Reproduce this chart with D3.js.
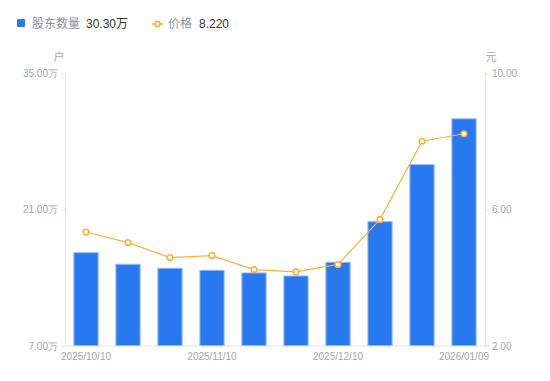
<!DOCTYPE html>
<html>
<head>
<meta charset="utf-8">
<script src="https://cdn.jsdelivr.net/npm/d3@7"></script>
<style>
  body { margin: 0; background: #fff; }
  svg { display: block; font-family: "Liberation Sans", "Noto Sans CJK SC", sans-serif; }
</style>
</head>
<body>
<script>
const dates = ['2025/10/10', '2025/10/20', '2025/10/31', '2025/11/10', '2025/11/20',
               '2025/11/30', '2025/12/10', '2025/12/20', '2025/12/31', '2026/01/09'];
const holders = [16.57, 15.38, 14.97, 14.76, 14.49, 14.18, 15.58, 19.75, 25.6, 30.30]; // 万户
const prices = [5.34, 5.03, 4.59, 4.65, 4.24, 4.17, 4.39, 5.71, 8.0, 8.22]; // 元
const leftTicks = [7, 21, 35];
const rightTicks = [2, 6, 10];
const shownDates = ['2025/10/10', '2025/11/10', '2025/12/10', '2026/01/09'];

const width = 550, height = 381;
const margin = { top: 73, right: 65, bottom: 35, left: 65 };

const barColor = '#2878f0', lineColor = '#fbb03b', axisColor = '#e3e4e8', textColor = '#a3a5b3';

const svg = d3.select('body').append('svg')
    .attr('width', width).attr('height', height);

const x = d3.scaleBand()
    .domain(dates)
    .range([margin.left, width - margin.right])
    .paddingInner(0.4).paddingOuter(0.2);

const yL = d3.scaleLinear().domain([7, 35]).range([height - margin.bottom, margin.top]);
const yR = d3.scaleLinear().domain([2, 10]).range([height - margin.bottom, margin.top]);

// axes
const leftAxis = svg.append('g')
    .attr('transform', `translate(${margin.left},0)`)
    .call(d3.axisLeft(yL).tickValues(leftTicks).tickSize(4).tickPadding(3)
      .tickFormat(d => d3.format('.2f')(d) + '万'));

const rightAxis = svg.append('g')
    .attr('transform', `translate(${width - margin.right},0)`)
    .call(d3.axisRight(yR).tickValues(rightTicks).tickSize(4).tickPadding(3)
      .tickFormat(d3.format('.2f')));

const bottomAxis = svg.append('g')
    .attr('transform', `translate(0,${height - margin.bottom})`)
    .call(d3.axisBottom(x).tickValues(shownDates).tickSize(0).tickPadding(7));

[leftAxis, rightAxis, bottomAxis].forEach(g => {
  g.select('.domain').attr('stroke', axisColor);
  g.selectAll('.tick line').attr('stroke', axisColor);
  g.selectAll('.tick text').attr('fill', textColor).style('font-size', '10px');
});
bottomAxis.select('.domain').attr('d', `M${margin.left},0H${width - margin.right}`);

// unit labels
svg.append('text').attr('x', margin.left - 6).attr('y', 61)
    .attr('text-anchor', 'middle').attr('fill', textColor)
    .style('font-size', '11px').text('户');
svg.append('text').attr('x', width - margin.right + 6).attr('y', 61)
    .attr('text-anchor', 'middle').attr('fill', textColor)
    .style('font-size', '11px').text('元');

// bars
svg.append('g').selectAll('rect')
  .data(holders)
  .join('rect')
    .attr('x', (d, i) => x(dates[i]) + 0.5)
    .attr('y', d => yL(d))
    .attr('width', x.bandwidth() - 1)
    .attr('height', d => yL(7) - yL(d) - 0.5)
    .attr('fill', barColor)
    .attr('stroke', '#8fb8f7')
    .attr('stroke-width', 1);

// price line
const line = d3.line()
    .x((d, i) => x(dates[i]) + x.bandwidth() / 2)
    .y(d => yR(d));

svg.append('path')
    .datum(prices)
    .attr('d', line)
    .attr('fill', 'none')
    .attr('stroke', lineColor)
    .attr('stroke-width', 1.2);

svg.append('g').selectAll('circle')
  .data(prices)
  .join('circle')
    .attr('cx', (d, i) => x(dates[i]) + x.bandwidth() / 2)
    .attr('cy', d => yR(d))
    .attr('r', 2.8)
    .attr('fill', '#fff')
    .attr('stroke', lineColor)
    .attr('stroke-width', 1.6);

// legend
const legend = svg.append('g').style('font-size', '12px');
legend.append('rect').attr('x', 17).attr('y', 19).attr('width', 8).attr('height', 8)
    .attr('rx', 1).attr('fill', barColor);
legend.append('text').attr('x', 32).attr('y', 28).attr('fill', '#8e909e').text('股东数量');
legend.append('text').attr('x', 86).attr('y', 28).attr('fill', '#333').text(d3.format('.2f')(holders[holders.length - 1]) + '万');

legend.append('line').attr('x1', 152).attr('x2', 163).attr('y1', 24).attr('y2', 24)
    .attr('stroke', lineColor).attr('stroke-width', 1.5);
legend.append('circle').attr('cx', 157.5).attr('cy', 24).attr('r', 2.6)
    .attr('fill', '#fff').attr('stroke', lineColor).attr('stroke-width', 1.6);
legend.append('text').attr('x', 168).attr('y', 28).attr('fill', '#8e909e').text('价格');
legend.append('text').attr('x', 199).attr('y', 28).attr('fill', '#333').text(d3.format('.3f')(prices[prices.length - 1]));
</script>
</body>
</html>
